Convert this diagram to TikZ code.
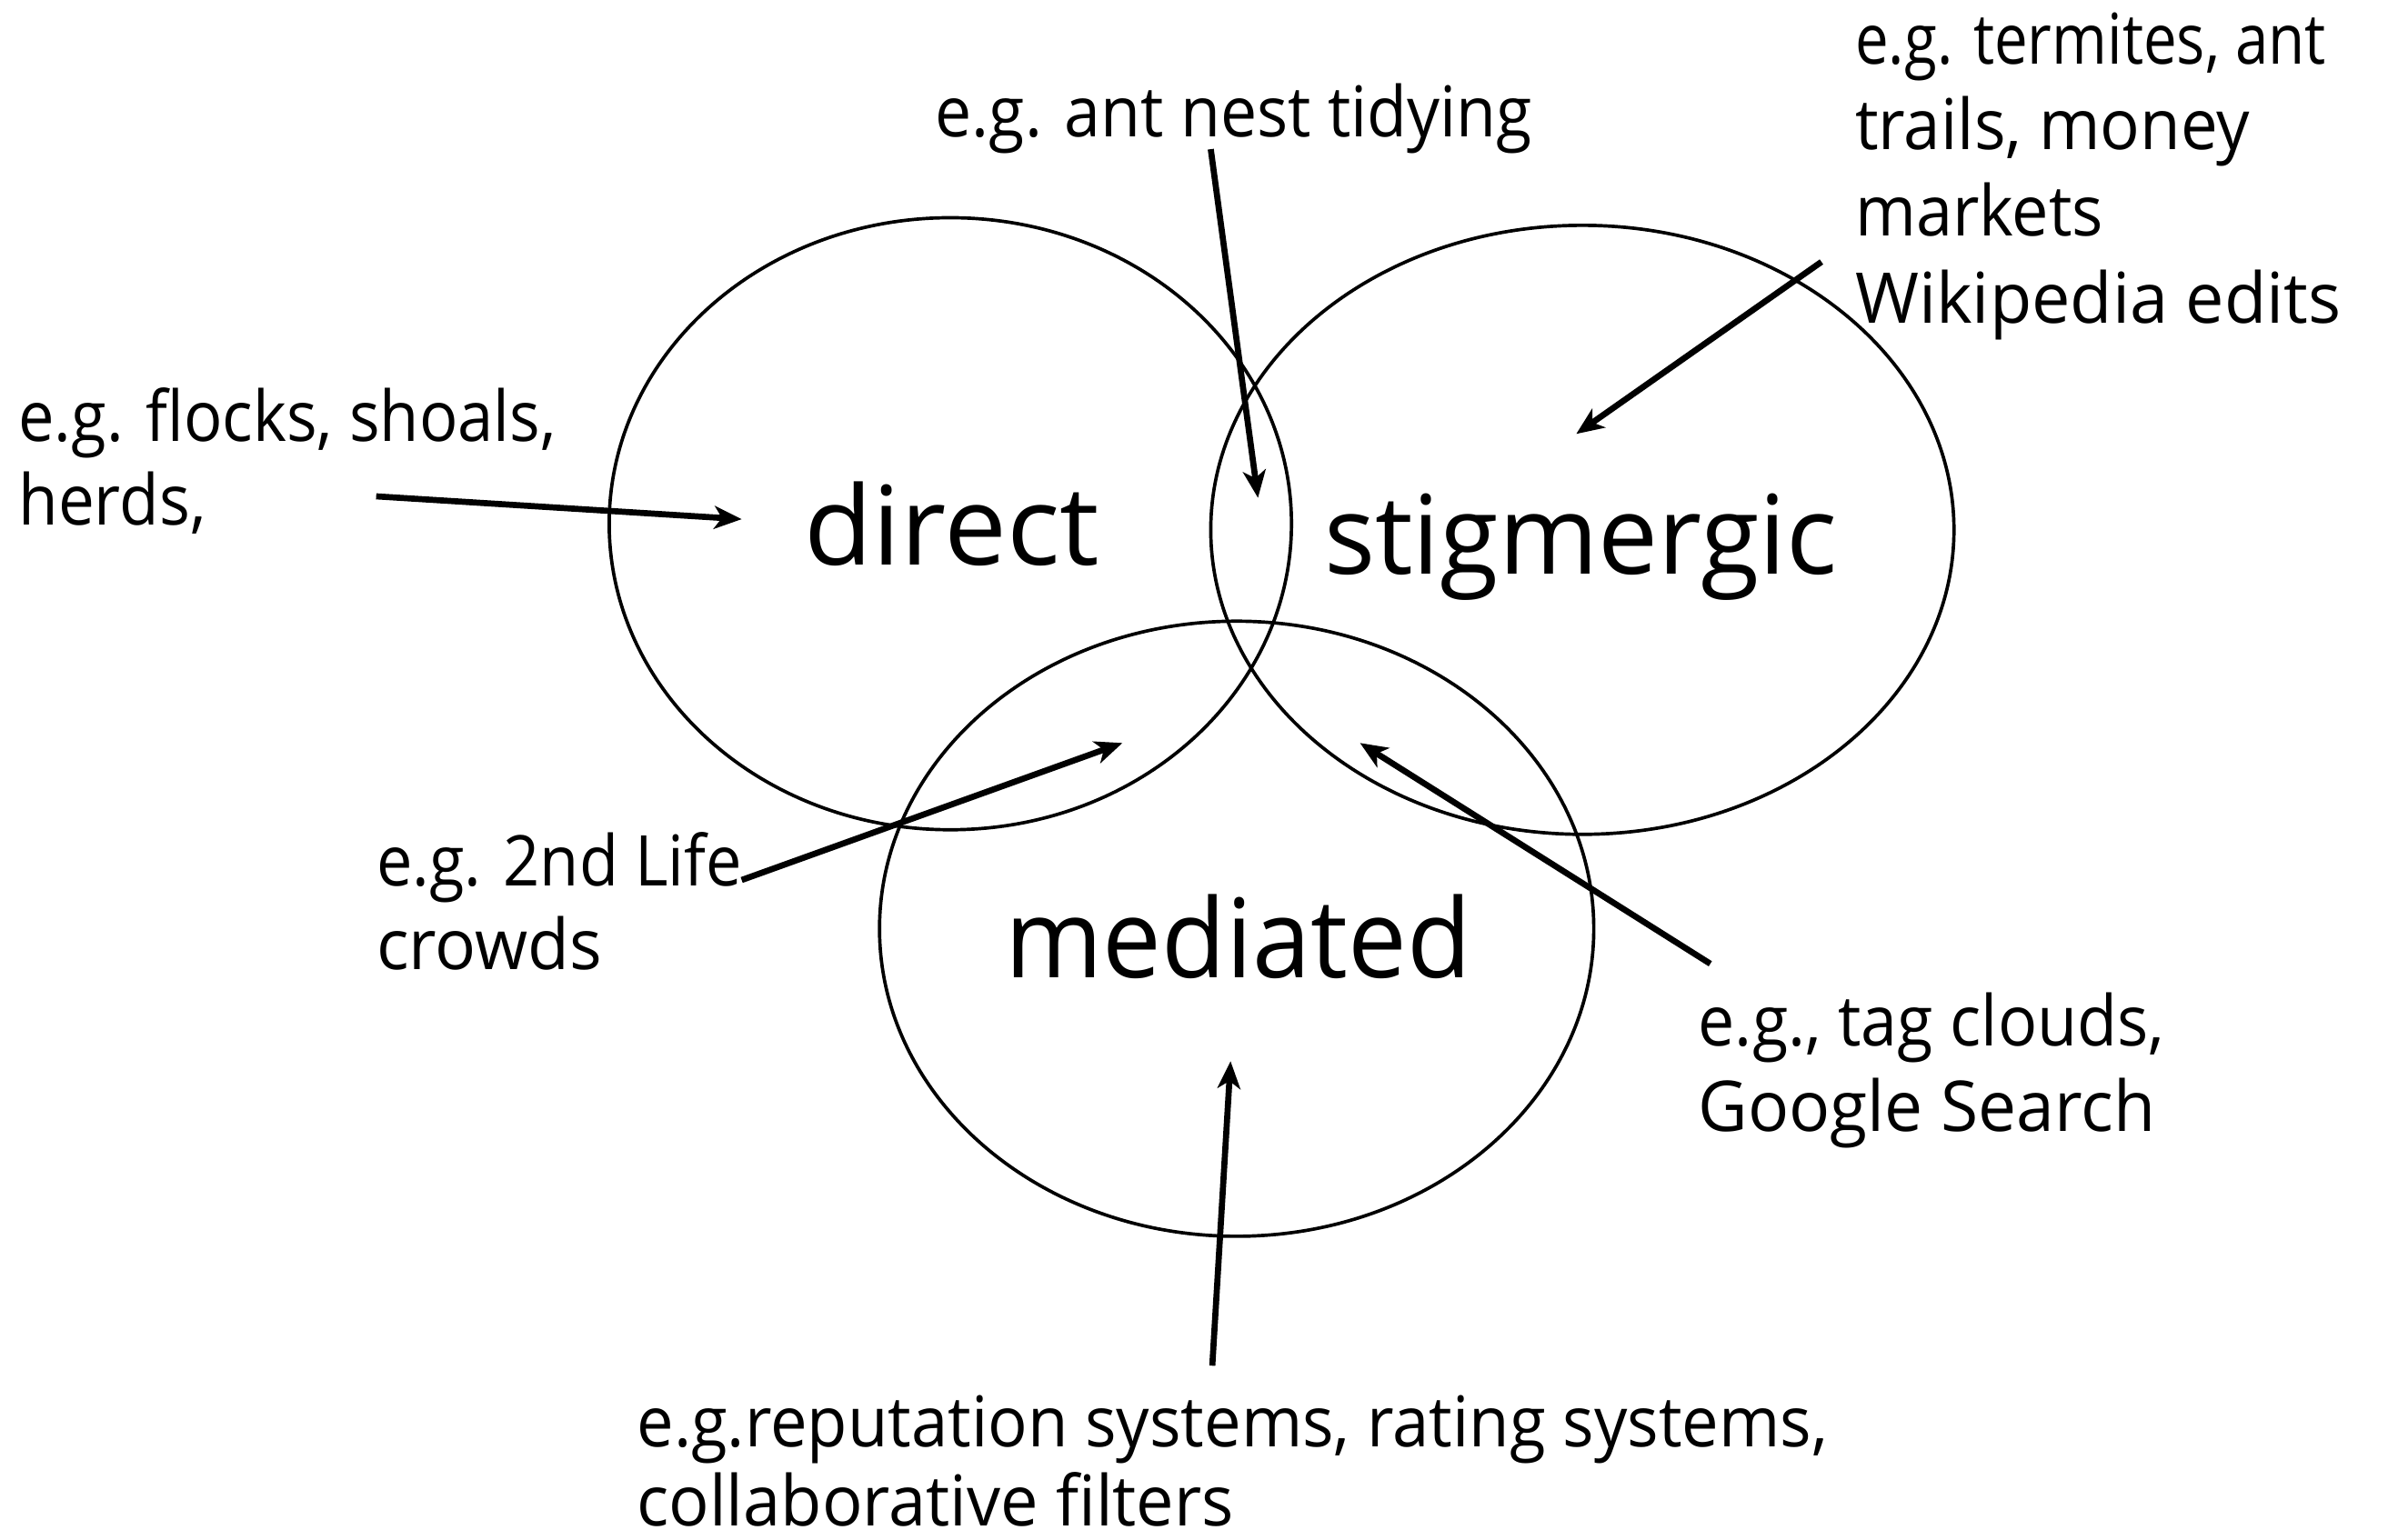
\documentclass[tikz,border=0pt]{standalone}
\usepackage{fontspec}
\usepackage{graphicx}
\setmainfont{Open Sans}
\usetikzlibrary{arrows.meta}
\newcommand{\fw}[2]{\resizebox{#1pt}{\height}{#2}}
\begin{document}
\begin{tikzpicture}[x=1pt,y=-1pt,
  ring/.style={draw, line width=2.2pt},
  conn/.style={line width=4pt, -{Stealth[length=18pt,width=15pt,inset=5pt]}},
  small/.style={inner sep=0pt, anchor=base west, font=\fontsize{46}{56}\selectfont},
  big/.style={inner sep=0pt, anchor=base, font=\fontsize{72}{86}\selectfont}]
\useasboundingbox (0,0) rectangle (1568,1011);

% circles
\draw[ring] (624,344) ellipse [x radius=224, y radius=201];
\draw[ring] (1039,348) ellipse [x radius=244, y radius=200];
\draw[ring] (812,610) ellipse [x radius=234.5, y radius=202];

% big labels
\node[big] (direct) at (625,371) {\fw{194}{direct}};
\node[big] (stig) at (1038,377) {\fw{337}{stigmergic}};
\node[big] (med) at (813,642) {\fw{306}{mediated}};

% small labels
\node[small] (ant) at (614,90) {\fw{392}{e.g. ant nest tidying}};
\node[small] (ter1) at (1218,42) {\fw{309}{e.g. termites, ant}};
\node[small] (ter2) at (1218,98) {\fw{259}{trails, money}};
\node[small] (ter3) at (1218,155) {\fw{163}{markets}};
\node[small] (ter4) at (1218,212) {\fw{319}{Wikipedia edits}};
\node[small] (flo1) at (12,290) {\fw{353}{e.g. flocks, shoals,}};
\node[small] (flo2) at (12,345) {\fw{123}{herds,}};
\node[small] (lif1) at (247,582) {\fw{240}{e.g. 2nd Life}};
\node[small] (lif2) at (247,637) {\fw{148}{crowds}};
\node[small] (tag1) at (1115,687) {\fw{306}{e.g., tag clouds,}};
\node[small] (tag2) at (1115,743) {\fw{300}{Google Search}};
\node[small] (rep1) at (418,950) {\fw{782}{e.g.reputation systems, rating systems,}};
\node[small] (rep2) at (418,1002) {\fw{392}{collaborative filters}};

% arrow endpoints
\coordinate (floS) at (247,326);  \coordinate (floE) at (487,341);
\coordinate (antS) at (795,98);   \coordinate (antE) at (826,327);
\coordinate (terS) at (1196,172); \coordinate (terE) at (1035,285);
\coordinate (lifS) at (487,578);  \coordinate (lifE) at (737,488);
\coordinate (tagS) at (1123,633); \coordinate (tagE) at (893,488);
\coordinate (repS) at (796,897);  \coordinate (repE) at (808,697);

\draw[conn] (floS) -- (floE);
\draw[conn] (antS) -- (antE);
\draw[conn] (terS) -- (terE);
\draw[conn] (lifS) -- (lifE);
\draw[conn] (tagS) -- (tagE);
\draw[conn] (repS) -- (repE);
\end{tikzpicture}
\end{document}
